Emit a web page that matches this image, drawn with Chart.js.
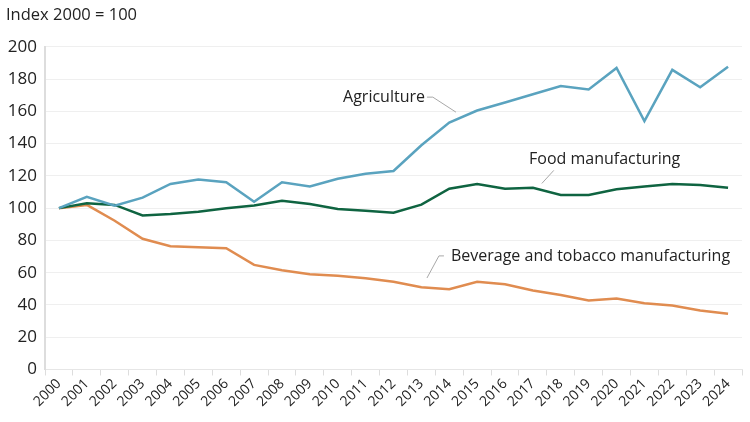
<!DOCTYPE html>
<html>
<head>
<meta charset="utf-8">
<script src="https://cdn.jsdelivr.net/npm/chart.js@4"></script>
<style>
  html, body { margin: 0; padding: 0; background: #fff; }
  #wrap { width: 750px; height: 422px; }
</style>
</head>
<body>
<div id="wrap"><canvas id="index-chart"></canvas></div>
<script>
// Chart data
const years = [
  '2000', '2001', '2002', '2003', '2004', '2005', '2006', '2007', '2008', '2009',
  '2010', '2011', '2012', '2013', '2014', '2015', '2016', '2017', '2018', '2019',
  '2020', '2021', '2022', '2023', '2024',
];
const agriculture = [
  100, 107, 101.5, 106.5, 115, 117.8, 116, 104, 116, 113.4,
  118.2, 121.3, 123, 139, 153, 160.5, 165.5, 170.6, 175.7, 173.6,
  186.9, 154, 185.7, 174.9, 187.7,
];
const foodManufacturing = [
  100, 103, 102, 95.5, 96.4, 97.8, 99.9, 101.6, 104.5, 102.6,
  99.5, 98.4, 97.2, 102.2, 112, 115, 112, 112.6, 108.2, 108.2,
  111.7, 113.4, 115, 114.4, 112.6,
];
const beverageTobacco = [
  100, 102, 92.2, 81, 76.4, 75.8, 75.2, 64.8, 61.5, 59,
  58.1, 56.5, 54.4, 51, 49.8, 54.4, 52.8, 49, 46.1, 42.8,
  44, 41.1, 39.7, 36.6, 34.5,
];
const yTicks = [0, 20, 40, 60, 80, 100, 120, 140, 160, 180, 200];

const FONT = '"Open Sans", sans-serif';
const TEXT = '#222222';

// Series labels with leader lines, placed in data units (category index, value)
const seriesLabels = [
  { text: 'Agriculture', x: 10.19, y: 168.8, line: [[13.2, 168.8], [13.41, 168.8], [14.24, 159.5]] },
  { text: 'Food manufacturing', x: 16.86, y: 130.2, line: [[17.75, 123.4], [17.32, 115.3]] },
  { text: 'Beverage and tobacco manufacturing', x: 14.06, y: 69.8, line: [[13.81, 70.4], [13.63, 70.4], [13.2, 56.7]] },
];

const labelPlugin = {
  id: 'seriesLabels',
  afterDatasetsDraw(chart) {
    const { ctx, scales: { x, y } } = chart;
    ctx.save();
    ctx.font = `16px ${FONT}`;
    ctx.fillStyle = TEXT;
    ctx.textAlign = 'left';
    ctx.textBaseline = 'middle';
    seriesLabels.forEach((l) => {
      ctx.fillText(l.text, x.getPixelForValue(l.x), y.getPixelForValue(l.y));
      ctx.beginPath();
      l.line.forEach(([lx, ly], i) => {
        const px = x.getPixelForValue(lx);
        const py = y.getPixelForValue(ly);
        if (i === 0) ctx.moveTo(px, py); else ctx.lineTo(px, py);
      });
      ctx.strokeStyle = '#a8a8a8';
      ctx.lineWidth = 1;
      ctx.stroke();
    });
    ctx.restore();
  },
};

const line = (label, data, color) => ({
  label,
  data,
  borderColor: color,
  backgroundColor: color,
  borderWidth: 2.5,
  pointRadius: 0,
  tension: 0,
});

const ctx = document.getElementById('index-chart');
// eslint-disable-next-line no-unused-vars
const chart = new Chart(ctx, {
  type: 'line',
  data: {
    labels: years,
    datasets: [
      line('Agriculture', agriculture, '#5aa3bf'),
      line('Food manufacturing', foodManufacturing, '#0f6441'),
      line('Beverage and tobacco manufacturing', beverageTobacco, '#e08c50'),
    ],
  },
  options: {
    responsive: true,
    maintainAspectRatio: false,
    animation: false,
    layout: {
      padding: { top: 0, bottom: 12, left: 6, right: 8 },
    },
    scales: {
      x: {
        offset: true,
        grid: {
          offset: true,
          drawOnChartArea: false,
          drawTicks: true,
          tickLength: 6,
          color: '#dddddd',
        },
        border: { color: '#e6e6e6', width: 1 },
        ticks: {
          color: TEXT,
          font: { family: FONT, size: 14 },
          maxRotation: 45,
          minRotation: 45,
          autoSkip: false,
          padding: 0,
        },
      },
      y: {
        min: 0,
        max: 200,
        afterBuildTicks: (axis) => { axis.ticks = yTicks.map((v) => ({ value: v })); },
        afterFit: (axis) => { axis.width = 39; },
        grid: { color: '#efefef', drawTicks: false },
        border: { color: '#dddddd', width: 2 },
        ticks: {
          color: TEXT,
          font: { family: FONT, size: 17 },
          padding: 8,
        },
      },
    },
    plugins: {
      legend: { display: false },
      tooltip: { enabled: false },
      title: {
        display: true,
        text: 'Index 2000 = 100',
        align: 'start',
        color: TEXT,
        font: { family: FONT, size: 16.5, weight: 'normal' },
        padding: { top: 5, bottom: 22 },
      },
    },
  },
  plugins: [labelPlugin],
});
</script>
</body>
</html>
